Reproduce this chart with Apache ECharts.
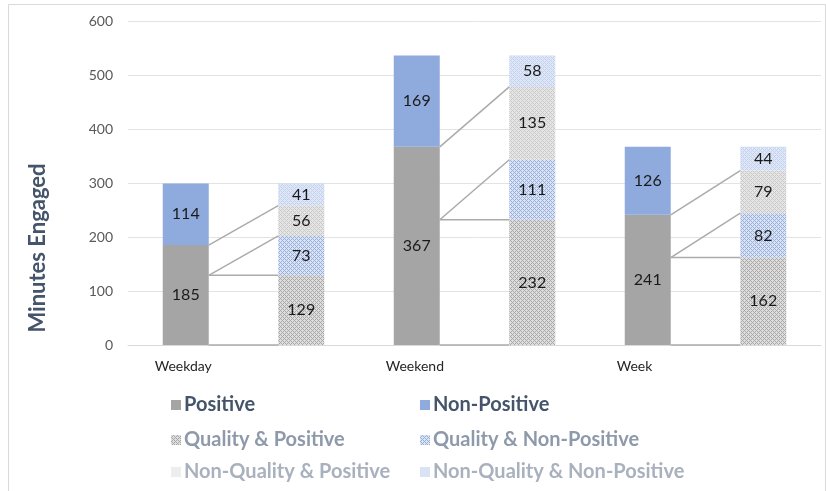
<!DOCTYPE html>
<html><head><meta charset="utf-8">
<script src="https://cdn.jsdelivr.net/npm/echarts@6/dist/echarts.min.js"></script>
<style>html,body{margin:0;padding:0;background:#fff}#c{width:826px;height:491px}</style>
</head><body><div id="c"></div>
<script>
// ---- data ----
const groups = ['Weekday', 'Weekend', 'Week'];
const positive = [185, 367, 241];
const nonPositive = [114, 169, 126];
const qualityPositive = [129, 232, 162];
const qualityNonPositive = [73, 111, 82];
const nonQualityPositive = [56, 135, 79];
const nonQualityNonPositive = [41, 58, 44];
const yTicks = [0, 100, 200, 300, 400, 500, 600];
const seriesNames = ['Positive', 'Non-Positive', 'Quality & Positive', 'Quality & Non-Positive', 'Non-Quality & Positive', 'Non-Quality & Non-Positive'];

// ---- styling helpers ----
const FONT = 'Lato';
function pattern(fg, bg) {
  const c = document.createElement('canvas');
  c.width = 4; c.height = 4;
  const g = c.getContext('2d');
  g.fillStyle = bg; g.fillRect(0, 0, 4, 4);
  g.fillStyle = fg;
  // fine dither
  [[0,0],[2,0],[1,1],[3,1],[0,2],[2,2],[1,3],[3,3]].forEach(p => g.fillRect(p[0], p[1], 1, 1));
  g.fillStyle = bg;
  g.fillRect(0, 0, 1, 1); g.fillRect(2, 2, 1, 1);
  return { image: c, repeat: 'repeat' };
}
const colors = [
  '#A5A5A5',
  '#8FAADC',
  pattern('#A8A8A8', '#DEDEDE'),
  pattern('#96AFDD', '#DCE4F4'),
  pattern('#C9C9C9', '#E6E6E6'),
  pattern('#C3D2EE', '#DFE7F6')
];
const legendIconColors = ['#A5A5A5', '#8FAADC', pattern('#A8A8A8', '#DEDEDE'), pattern('#96AFDD', '#DCE4F4'), '#EDEDED', '#DAE3F3'];
const legendTextColors = ['#44546A', '#44546A', '#8E99AA', '#8E99AA', '#A9B1BE', '#A9B1BE'];

// ---- build category axis: left (total split) and right (detail) bar per group ----
const cats = [];
groups.forEach(g => { cats.push(g); cats.push(' ' + g + ' detail'); });
function leftOnly(arr) { const o = []; arr.forEach(v => { o.push(v); o.push('-'); }); return o; }
function rightOnly(arr) { const o = []; arr.forEach(v => { o.push('-'); o.push(v); }); return o; }
const seriesData = [
  leftOnly(positive), leftOnly(nonPositive),
  rightOnly(qualityPositive), rightOnly(qualityNonPositive),
  rightOnly(nonQualityPositive), rightOnly(nonQualityNonPositive)
];

const BAR_W = 46;
const series = seriesData.map((d, i) => ({
  name: seriesNames[i],
  type: 'bar',
  stack: 'all',
  data: d,
  barWidth: BAR_W,
  itemStyle: { color: colors[i] },
  label: { show: true, position: 'inside', color: '#1a1a1a', fontFamily: FONT, fontSize: 16 },
  emphasis: { disabled: true }
}));

// connector lines (series lines): left bar cumulative -> right bar cumulative
const lineData = [];
groups.forEach((g, i) => {
  const L = 2 * i, R = 2 * i + 1;
  lineData.push([L, 0, R, 0]);
  lineData.push([L, qualityPositive[i], R, qualityPositive[i]]);
  lineData.push([L, qualityPositive[i], R, qualityPositive[i] + qualityNonPositive[i]]);
  lineData.push([L, positive[i], R, qualityPositive[i] + qualityNonPositive[i] + nonQualityPositive[i]]);
});
series.push({
  type: 'custom',
  name: 'connectors',
  data: lineData,
  encode: { x: [0, 2], y: [1, 3] },
  z: 5,
  silent: true,
  renderItem: function (params, api) {
    const p1 = api.coord([api.value(0), api.value(1)]);
    const p2 = api.coord([api.value(2), api.value(3)]);
    return {
      type: 'line',
      shape: { x1: p1[0] + BAR_W / 2, y1: p1[1], x2: p2[0] - BAR_W / 2, y2: p2[1] },
      style: { stroke: '#ABABAB', lineWidth: 1.5 }
    };
  }
});

// legends: 2 columns x 3 rows
const legendPos = [
  { left: 166, top: 390 }, { left: 415, top: 390 },
  { left: 166, top: 425 }, { left: 415, top: 425 },
  { left: 166, top: 457 }, { left: 415, top: 457 }
];
const legends = seriesNames.map((n, i) => ({
  left: legendPos[i].left, top: legendPos[i].top,
  itemWidth: 10, itemHeight: 10, itemGap: 0,
  icon: 'rect',
  selectedMode: false,
  data: [{ name: n, itemStyle: { color: legendIconColors[i] } }],
  textStyle: { fontFamily: FONT, fontWeight: 'bold', fontSize: 20, color: legendTextColors[i], padding: [0, 0, 0, -2] }
}));

const chart = echarts.init(document.getElementById('c'), null, { renderer: 'canvas' });
chart.setOption({
  animation: false,
  backgroundColor: '#fff',
  textStyle: { fontFamily: FONT },
  grid: { left: 128, right: 5, top: 21, bottom: 146 },
  legend: legends,
  xAxis: {
    type: 'category',
    data: cats,
    axisTick: { show: false },
    axisLine: { lineStyle: { color: '#D9D9D9', width: 1 } },
    axisLabel: {
      interval: 0, margin: 14, align: 'left',
      color: '#262626', fontFamily: FONT, fontSize: 14,
      padding: [0, 0, 0, -31],
      formatter: v => (groups.indexOf(v) >= 0 ? v : '')
    }
  },
  yAxis: {
    type: 'value',
    min: yTicks[0], max: yTicks[yTicks.length - 1], interval: 100,
    axisLine: { show: false }, axisTick: { show: false },
    splitLine: { lineStyle: { color: '#E3E3E3', width: 1 } },
    axisLabel: { color: '#595959', fontFamily: FONT, fontSize: 14, margin: 15 }
  },
  graphic: [
    { type: 'rect', z: -1, shape: { x: 8.5, y: 4.5, width: 817, height: 490 }, style: { fill: 'none', stroke: '#D9D9D9', lineWidth: 1 } },
    { type: 'text', x: 38, y: 248, rotation: Math.PI / 2, style: { text: 'Minutes Engaged', fontFamily: FONT, fontWeight: 'bold', fontSize: 22, fill: '#44546A', align: 'center', verticalAlign: 'middle' } }
  ],
  series: series
});
</script></body></html>
